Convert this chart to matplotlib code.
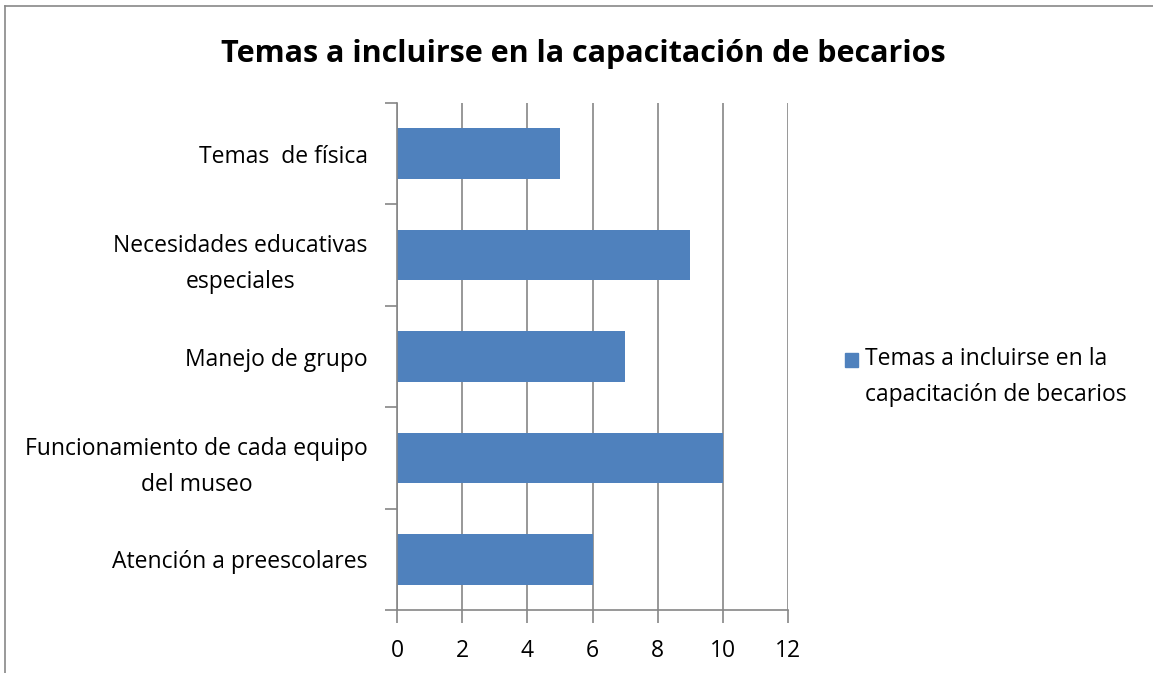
import matplotlib
matplotlib.use("Agg")
import matplotlib.pyplot as plt
from matplotlib.patches import Rectangle
from matplotlib.lines import Line2D

categories = ["Atención a preescolares",
              "Funcionamiento de cada equipo\ndel museo",
              "Manejo de grupo",
              "Necesidades educativas\nespeciales",
              "Temas  de física"]
values = [6, 10, 7, 9, 5]
xticks = [0, 2, 4, 6, 8, 10, 12]
title = "Temas a incluirse en la capacitación de becarios"
legend_label = "Temas a incluirse en la\ncapacitación de becarios"

plt.rcParams['font.family'] = ['Open Sans', 'DejaVu Sans']
bar_color = "#4F81BD"
grid_color = "#868686"
fs = 16.5

fig = plt.figure(figsize=(11.53, 6.73), dpi=100)
ax = fig.add_axes([397/1153, 1-610/673, (788-397)/1153, (610-103)/673])

y = list(range(len(categories)))
ax.barh(y, values, height=0.5, color=bar_color, zorder=3)
ax.set_xlim(0, 12)
ax.set_ylim(-0.5, len(categories)-0.5)
ax.set_xticks(xticks)
ax.set_xticklabels([str(t) for t in xticks], fontsize=fs)
ax.set_yticks(y)
ax.set_yticklabels(categories, fontsize=fs, multialignment='center', linespacing=1.65)
ax.set_yticks([i-0.5 for i in range(len(categories)+1)], minor=True)
ax.tick_params(axis='y', which='major', length=0, pad=21)
ax.tick_params(axis='y', which='minor', length=9, color=grid_color, width=1.2)
ax.tick_params(axis='x', length=9, color=grid_color, width=1.2, pad=12)
ax.grid(axis='x', color=grid_color, linewidth=1.2, zorder=0)
for s in ['top', 'right']:
    ax.spines[s].set_visible(False)
for s in ['left', 'bottom']:
    ax.spines[s].set_color(grid_color)
    ax.spines[s].set_linewidth(1.2)
ax.spines['left'].set_zorder(4)

fig.text(583/1153, 1-54/673, title, ha='center', va='center', fontsize=22, fontweight='bold')

# legend
fig.patches.append(Rectangle((845/1153, 1-367/673), 13/1153, 14/673,
                             transform=fig.transFigure, color=bar_color))
fig.text(865/1153, 1-377/673, legend_label, ha='left', va='center', fontsize=fs, linespacing=1.65)

# border
fig.add_artist(Line2D([5/1153, 5/1153], [0, 1-6/673], transform=fig.transFigure, color="#888888", lw=1.2))
fig.add_artist(Line2D([5/1153, 1], [1-6/673, 1-6/673], transform=fig.transFigure, color="#888888", lw=1.2))

fig.savefig("out.png", dpi=100)
